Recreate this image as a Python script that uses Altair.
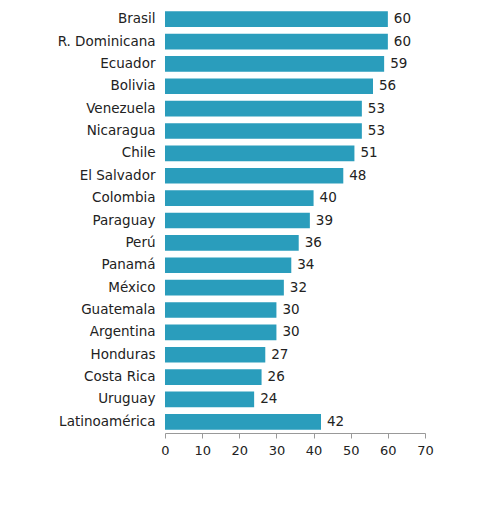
import altair as alt
import pandas as pd

countries = ["Brasil", "R. Dominicana", "Ecuador", "Bolivia", "Venezuela", "Nicaragua",
             "Chile", "El Salvador", "Colombia", "Paraguay", "Perú", "Panamá", "México",
             "Guatemala", "Argentina", "Honduras", "Costa Rica", "Uruguay", "Latinoamérica"]
values = [60, 60, 59, 56, 53, 53, 51, 48, 40, 39, 36, 34, 32, 30, 30, 27, 26, 24, 42]
x_ticks = [0, 10, 20, 30, 40, 50, 60, 70]

FONT = "DejaVu Sans"
TXT = "#222222"

df = pd.DataFrame({"pais": countries, "valor": values})

base = alt.Chart(df).encode(
    y=alt.Y("pais:N", sort=countries, title=None,
            scale=alt.Scale(paddingInner=0.3, paddingOuter=0.15),
            axis=alt.Axis(domain=False, ticks=False, labelFont=FONT,
                          labelFontSize=13.5, labelColor=TXT, labelPadding=10)),
    x=alt.X("valor:Q", title=None,
            scale=alt.Scale(domain=[0, 70], nice=False),
            axis=alt.Axis(values=x_ticks, grid=False, domainColor="#999999",
                          tickColor="#999999", tickSize=5, labelFont=FONT,
                          labelFontSize=13, labelColor=TXT, labelPadding=6,
                          labelFlush=False)),
)

bars = base.mark_bar(color="#2A9DBC")
labels = base.mark_text(align="left", baseline="middle", dx=6, font=FONT,
                        fontSize=13.5, color=TXT).encode(text="valor:Q")

chart = (bars + labels).properties(
    width=260, height=425,
    padding={"left": 157, "top": 0, "right": 40, "bottom": 40},
    autosize="none",
).configure(background="white").configure_view(strokeWidth=0, stroke=None)

chart.save("out.html", embed_options={"renderer": "svg", "actions": False})
